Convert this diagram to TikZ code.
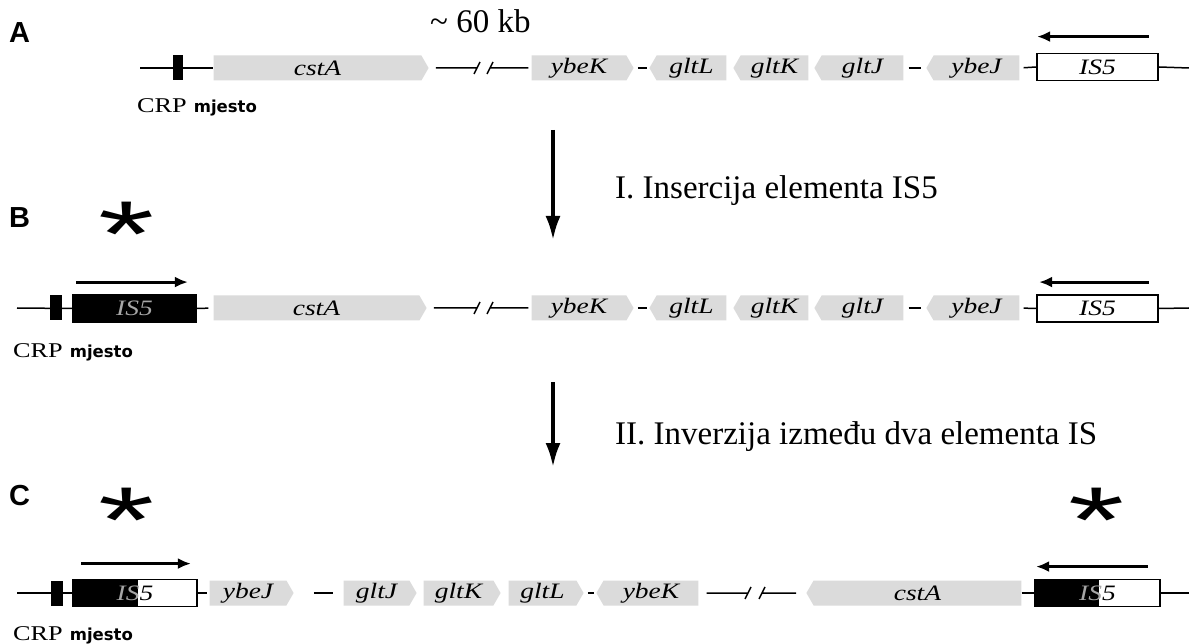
\documentclass[tikz,border=0pt]{standalone}
\usepackage{fontspec}
\setmainfont{Liberation Serif}
\newfontfamily\panelfont{Liberation Sans}
\newfontfamily\sitefont{DejaVu Sans}
\newfontfamily\genefont[FakeStretch=1.25]{Liberation Serif}
\usetikzlibrary{arrows.meta,shapes.symbols,calc}

\definecolor{genegray}{gray}{0.86}

\tikzset{
  gene/.style={signal, signal pointer angle=120, fill=genegray, inner sep=0pt,
    minimum height=25pt, font=\genefont\itshape\fontsize{22}{22}\selectfont},
  isbox/.style={draw, line width=1.8pt, fill=white, inner sep=0pt,
    minimum height=27pt, font=\genefont\itshape\fontsize{22}{22}\selectfont},
  crp/.style={fill=black, inner sep=0pt, minimum height=25pt},
  chrom/.style={line width=1.5pt},
  orient/.style={line width=3pt, -{Latex[length=13pt,width=11pt]}},
  stepline/.style={line width=3.5pt, -{Latex[length=24pt,width=15pt]}},
  panel/.style={font=\panelfont\bfseries\fontsize{29}{29}\selectfont, anchor=base west, inner sep=0pt},
  star/.style={font=\panelfont\fontsize{120}{120}\selectfont, anchor=base, inner sep=0pt, text depth=0pt},
  steptext/.style={font=\fontsize{33}{33}\selectfont, anchor=base west, inner sep=0pt},
  site/.style={anchor=base west, inner sep=0pt},
}

\newcommand{\crpsite}{{\genefont\fontsize{21}{21}\selectfont CRP}\hspace{7pt}{\sitefont\bfseries\fontsize{16.5}{16.5}\selectfont mjesto}}
\newcommand{\mutstar}{\scalebox{1.2}[0.78]{*}}

\begin{document}
\begin{tikzpicture}[x=1pt, y=-1pt]
\useasboundingbox[fill=white] (0,0) rectangle (1189,644);

% A
\node[panel] (labA) at (9,43) {A};
\node[anchor=base west, inner sep=0pt, font=\fontsize{33}{33}\selectfont] (kb) at (430,33) {\textasciitilde\ 60 kb};
\coordinate (lA) at (140,68);
\coordinate (rA) at (1189,68);
\coordinate (brkA1) at (477,68);
\coordinate (brkA2) at (490,68);
\node[gene, signal to=east, minimum width=215pt] (cstA) at (317.5,68) {cstA};
\node[gene, signal to=east, minimum width=102pt] (ybeKA) at (579,68) {ybeK};
\node[gene, signal to=west, minimum width=77pt] (gltLA) at (691.5,68) {gltL};
\node[gene, signal to=west, minimum width=75pt] (gltKA) at (774.5,68) {gltK};
\node[gene, signal to=west, minimum width=89pt] (gltJA) at (862.5,68) {gltJ};
\node[gene, signal to=west, minimum width=93pt] (ybeJA) at (976.5,68) {ybeJ};
\node[isbox, minimum width=121pt] (isA) at (1097.5,67) {IS5};
\draw[chrom] (lA) -- (cstA.west);
\node[crp, minimum width=10pt] (crpA) at (178,68) {};
\draw[chrom] (cstA.east) ++(7,0) -- (brkA1) ++(-3,6) -- ++(6,-12);
\draw[chrom] (ybeKA.west) ++(-3,0) -- (brkA2) ++(-3,6) -- ++(6,-12);
\draw[chrom, shorten <=4pt, shorten >=2pt] (ybeKA.east) -- (gltLA.west);
\draw[chrom, shorten <=5pt, shorten >=5pt] (gltJA.east) -- (ybeJA.west);
\draw[chrom, shorten <=4pt] (ybeJA.east) -- (isA.west);
\draw[chrom] (isA.east) -- (rA);
\draw[orient] ($(isA.north east)+(-10,-16)$) -- ($(isA.north west)+(1,-16)$);
\node[site] (siteA) at (137,113) {\crpsite};

% I
\coordinate (stepI) at (553,130);
\draw[stepline] (stepI) -- ++(0,110);
\node[steptext] (txtI) at (615,199) {I. Insercija elementa IS5};

% B
\node[panel] (labB) at (9,228) {B};
\node[star] (starB) at (127,267) {\mutstar};
\coordinate (lB) at (17,308);
\coordinate (rB) at (1189,308);
\coordinate (brkB1) at (477,308);
\coordinate (brkB2) at (490,308);
\node[isbox, fill=black, text=gray!70, minimum width=123pt] (isB1) at (134.5,308.5) {IS5};
\node[gene, signal to=east, minimum width=213pt] (cstB) at (316.5,308) {cstA};
\node[gene, signal to=east, minimum width=102pt] (ybeKB) at (579,308) {ybeK};
\node[gene, signal to=west, minimum width=77pt] (gltLB) at (691.5,308) {gltL};
\node[gene, signal to=west, minimum width=75pt] (gltKB) at (774.5,308) {gltK};
\node[gene, signal to=west, minimum width=89pt] (gltJB) at (862.5,308) {gltJ};
\node[gene, signal to=west, minimum width=93pt] (ybeJB) at (976.5,308) {ybeJ};
\node[isbox, minimum width=121pt] (isB2) at (1097.5,308.5) {IS5};
\draw[chrom] (lB) -- (isB1.west);
\node[crp, minimum width=12pt] (crpB) at (56,308) {};
\draw[chrom, shorten >=5pt] (isB1.east) -- (cstB.west);
\draw[chrom] (cstB.east) ++(7,0) -- (brkB1) ++(-3,6) -- ++(6,-12);
\draw[chrom] (ybeKB.west) ++(-3,0) -- (brkB2) ++(-3,6) -- ++(6,-12);
\draw[chrom, shorten <=4pt, shorten >=2pt] (ybeKB.east) -- (gltLB.west);
\draw[chrom, shorten <=5pt, shorten >=5pt] (gltJB.east) -- (ybeJB.west);
\draw[chrom, shorten <=4pt] (ybeJB.east) -- (isB2.west);
\draw[chrom] (isB2.east) -- (rB);
\draw[orient] ($(isB1.north west)+(4,-12)$) -- ($(isB1.north east)+(-9,-12)$);
\draw[orient] ($(isB2.north east)+(-10,-12)$) -- ($(isB2.north west)+(3,-12)$);
\node[site] (siteB) at (13,358) {\crpsite};

% II
\coordinate (stepII) at (553,382);
\draw[stepline] (stepII) -- ++(0,85);
\node[steptext] (txtII) at (615,444) {II. Inverzija između dva elementa IS};

% C
\node[panel] (labC) at (9,505) {C};
\node[star] (starC1) at (127,552) {\mutstar};
\node[star] (starC2) at (1097,552) {\mutstar};
\coordinate (lC) at (17,593);
\coordinate (rC) at (1189,593);
\coordinate (brkC1) at (748,593);
\coordinate (brkC2) at (762,593);
\node[isbox, minimum width=124pt,
  path picture={\fill[black] (path picture bounding box.south west) rectangle ([xshift=65pt]path picture bounding box.north west);}]
  (isC1) at (135,593) {\textcolor{gray!70}{IS}5};
\node[gene, signal to=east, minimum width=84pt] (ybeJC) at (248,593) {ybeJ};
\node[gene, signal to=east, minimum width=73pt] (gltJC) at (376.5,593) {gltJ};
\node[gene, signal to=east, minimum width=77pt] (gltKC) at (458.5,593) {gltK};
\node[gene, signal to=east, minimum width=75pt] (gltLC) at (542.5,593) {gltL};
\node[gene, signal to=west, minimum width=102pt] (ybeKC) at (651,593) {ybeK};
\node[gene, signal to=west, minimum width=215pt] (cstC) at (917.5,593) {cstA};
\node[isbox, minimum width=125pt,
  path picture={\fill[black] (path picture bounding box.south west) rectangle ([xshift=64pt]path picture bounding box.north west);}]
  (isC2) at (1097.5,593) {\textcolor{gray!70}{IS}5};
\draw[chrom] (lC) -- (isC1.west);
\node[crp, minimum width=12pt] (crpC) at (56.5,593) {};
\draw[chrom, shorten >=2pt] (isC1.east) -- (ybeJC.west);
\draw[chrom, shorten <=20pt, shorten >=10pt] (ybeJC.east) -- (gltJC.west);
\draw[chrom, shorten <=4pt, shorten >=2pt] (gltLC.east) -- (ybeKC.west);
\draw[chrom] (ybeKC.east) ++(8,0) -- (brkC1) ++(-3,6) -- ++(6,-12);
\draw[chrom] (cstC.west) ++(-10,0) -- (brkC2) ++(-3,6) -- ++(6,-12);
\draw[chrom] (cstC.east) -- (isC2.west);
\draw[chrom] (isC2.east) -- (rC);
\draw[orient] ($(isC1.north west)+(9,-15)$) -- ($(isC1.north east)+(-7,-15)$);
\draw[orient] ($(isC2.north east)+(-13,-12)$) -- ($(isC2.north west)+(2,-12)$);
\node[site] (siteC) at (13,640) {\crpsite};
\end{tikzpicture}
\end{document}
